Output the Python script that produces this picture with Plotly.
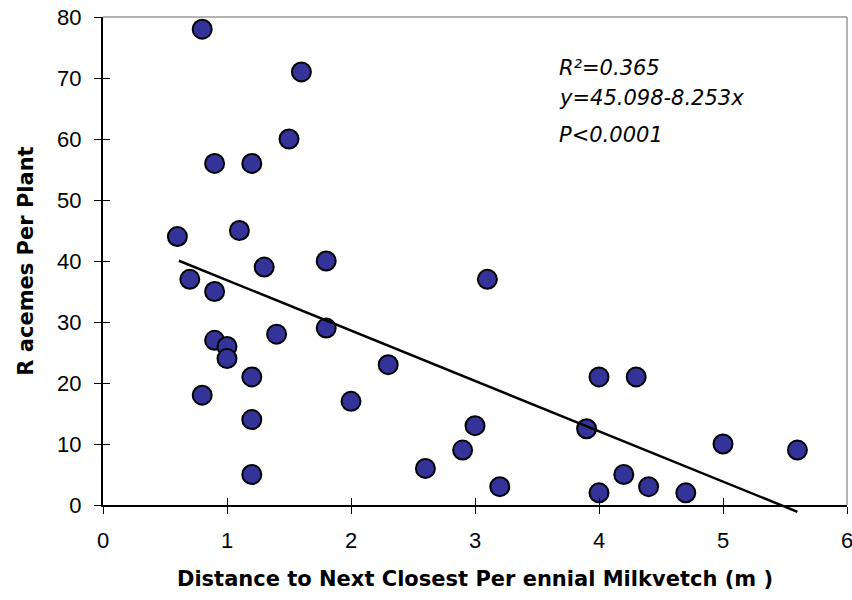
import plotly.graph_objects as go

distance = [0.8, 1.6, 1.5, 0.9, 1.2, 0.6, 1.1, 1.3, 1.8, 0.7, 0.9, 3.1,
            0.9, 1.0, 1.0, 1.4, 1.8, 0.8, 1.2, 1.2, 1.2, 2.3, 2.0, 2.6,
            2.9, 3.0, 3.2, 3.9, 4.0, 4.3, 4.0, 4.2, 4.4, 4.7, 5.0, 5.6]
racemes = [78, 71, 60, 56, 56, 44, 45, 39, 40, 37, 35, 37,
           27, 26, 24, 28, 29, 18, 21, 14, 5, 23, 17, 6,
           9, 13, 3, 12.5, 21, 21, 2, 5, 3, 2, 10, 9]

intercept = 45.098
slope = -8.253
fit_x = [0.6, 5.6]
fit_y = [intercept + slope * v for v in fit_x]

x_ticks = [0, 1, 2, 3, 4, 5, 6]
y_ticks = [0, 10, 20, 30, 40, 50, 60, 70, 80]

stats_lines = ["R²=0.365", "y=45.098-8.253x", "P<0.0001"]
stats_y = [71.7, 66.8, 60.6]

FONT = "Liberation Sans, Arial, sans-serif"
WIDE = "DejaVu Sans, Verdana, sans-serif"

fig = go.Figure()
fig.add_trace(go.Scatter(
    x=distance, y=racemes, mode="markers",
    marker=dict(size=19, color="#333399", line=dict(color="black", width=2)),
    showlegend=False, cliponaxis=False,
))
# empty trace to activate secondary axes used for inside ticks
fig.add_trace(go.Scatter(x=[], y=[], xaxis="x2", yaxis="y2", showlegend=False, hoverinfo="skip"))

# regression line (annotation arrow so it can extend below the axis like the original)
fig.add_annotation(
    x=fit_x[1], y=fit_y[1], ax=fit_x[0], ay=fit_y[0],
    xref="x", yref="y", axref="x", ayref="y",
    text="", showarrow=True, arrowhead=0, arrowwidth=2.5, arrowcolor="black",
    standoff=0, startstandoff=0,
)

for t, yy in zip(stats_lines, stats_y):
    fig.add_annotation(
        x=3.66, y=yy, xref="x", yref="y", text=t, showarrow=False,
        xanchor="left", yanchor="middle",
        font=dict(family=WIDE, size=21, color="black", style="italic"),
    )

# top and right thin grey frame lines
fig.add_shape(type="line", xref="paper", yref="paper", x0=0, x1=1, y0=1, y1=1,
              line=dict(color="#666666", width=1))
fig.add_shape(type="line", xref="paper", yref="paper", x0=1, x1=1, y0=0, y1=1,
              line=dict(color="#666666", width=1))

fig.update_layout(
    width=852, height=600,
    margin=dict(l=103, r=5, t=17, b=95, autoexpand=False),
    paper_bgcolor="white", plot_bgcolor="white",
    font=dict(family=FONT, color="black"),
    xaxis=dict(
        range=[0, 6], tickvals=x_ticks, showgrid=False, zeroline=False,
        showline=True, linecolor="black", linewidth=2, automargin=False,
        ticks="outside", ticklen=7, tickwidth=1, tickcolor="black",
        tickfont=dict(size=22), ticklabelstandoff=8, ticklabeloverflow="allow",
        title=dict(text="<b>Distance to Next Closest Per ennial Milkvetch (m )</b>",
                   font=dict(size=21, family=WIDE), standoff=19),
    ),
    yaxis=dict(
        range=[0, 80], tickvals=y_ticks, showgrid=False, zeroline=False,
        showline=True, linecolor="black", linewidth=2, automargin=False,
        ticks="outside", ticklen=7, tickwidth=1, tickcolor="black",
        tickfont=dict(size=22), ticklabelstandoff=8, ticklabeloverflow="allow",
        title=dict(text="<b>R acemes Per Plant</b>", font=dict(size=21, family=WIDE), standoff=18),
    ),
    xaxis2=dict(
        range=[0, 6], tickvals=x_ticks, overlaying="x", anchor="y2", side="bottom",
        showgrid=False, zeroline=False, showline=False, showticklabels=False,
        ticks="inside", ticklen=7, tickwidth=1, tickcolor="black", automargin=False,
    ),
    yaxis2=dict(
        range=[0, 80], tickvals=y_ticks, overlaying="y", anchor="x2", side="left",
        showgrid=False, zeroline=False, showline=False, showticklabels=False,
        ticks="inside", ticklen=7, tickwidth=1, tickcolor="black", automargin=False,
    ),
)

fig.write_html("out.html")
